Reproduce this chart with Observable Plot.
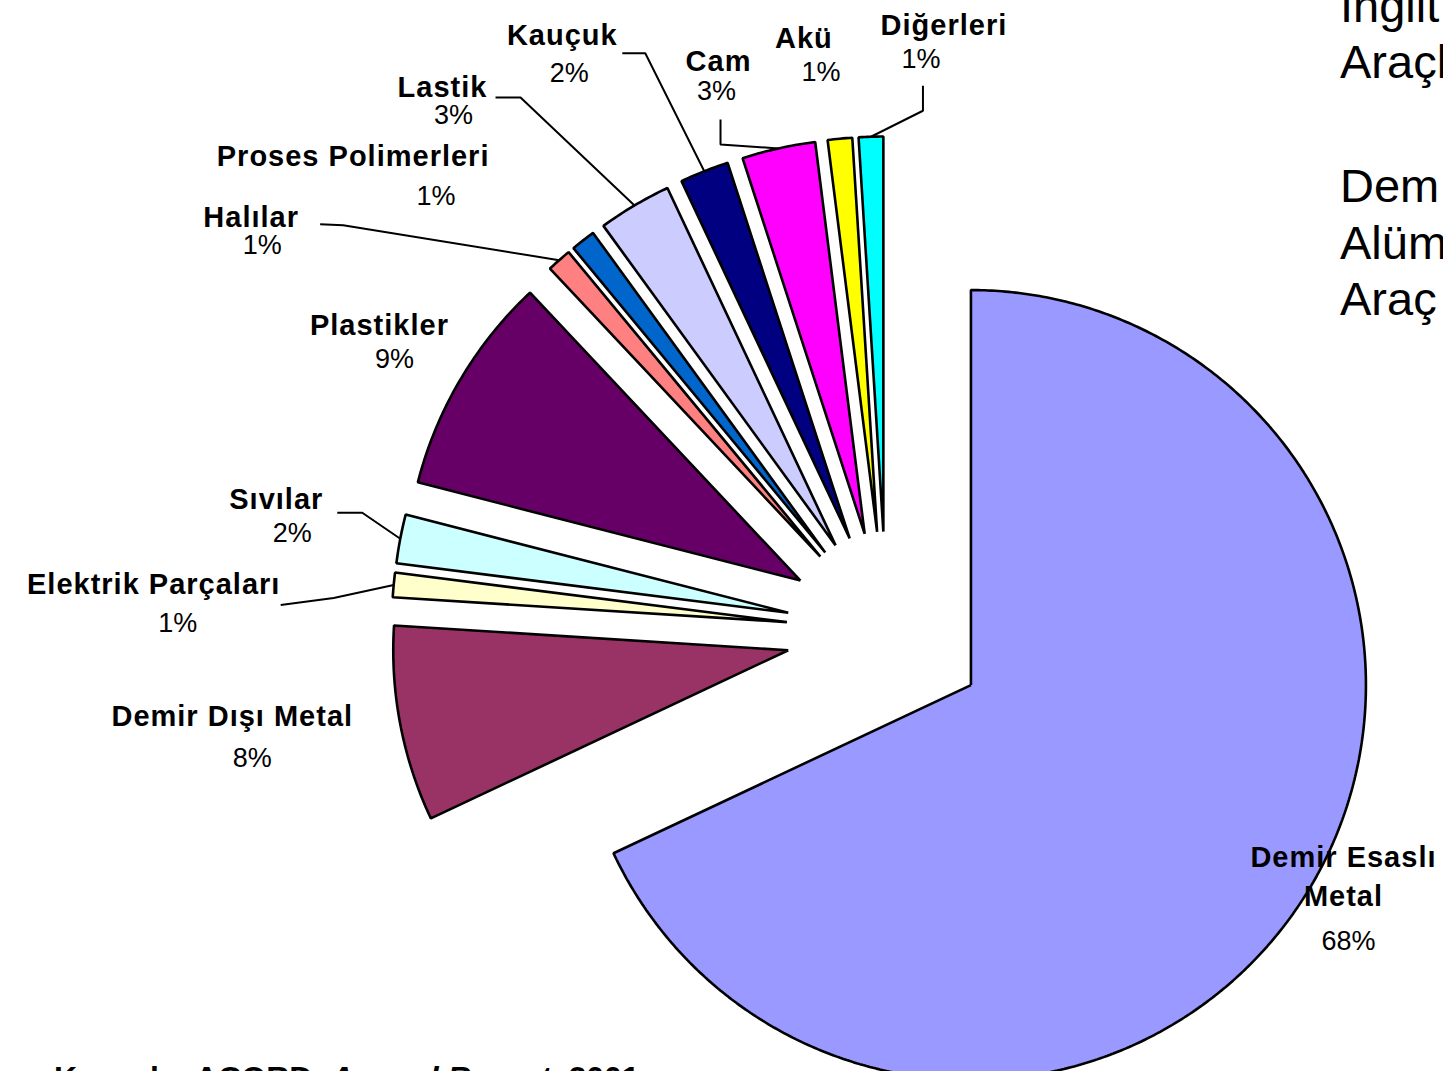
<!DOCTYPE html>
<html>
<head>
<meta charset="utf-8">
<script src="https://cdn.jsdelivr.net/npm/d3@7"></script>
<script src="https://cdn.jsdelivr.net/npm/@observablehq/plot@0.6"></script>
<style>
html, body { margin: 0; padding: 0; background: #fff; overflow: hidden; }
#wrap { position: relative; width: 1443px; height: 1071px; overflow: hidden; font-family: "Liberation Sans", Arial, sans-serif; color: #000; }
#chart { position: absolute; left: 0; top: 0; }
.side { position: absolute; left: 1340px; font-size: 47px; line-height: 1; white-space: nowrap; }
.caption { position: absolute; left: 54px; top: 1062px; font-size: 32px; line-height: 1; font-weight: bold; white-space: nowrap; }
#chart g[font-weight="bold"] text { letter-spacing: 1px; }
</style>
</head>
<body>
<div id="wrap">
  <div id="chart"></div>
  <div id="side"></div>
  <div class="caption">Kaynak : ACORD, <i>Annual Report</i>, 2001</div>
</div>
<script>
// ---- data ----
const categories = ["Demir Esaslı Metal", "Demir Dışı Metal", "Elektrik Parçaları", "Sıvılar", "Plastikler",
  "Halılar", "Proses Polimerleri", "Lastik", "Kauçuk", "Cam", "Akü", "Diğerleri"];
const shares = [68, 8, 1, 2, 9, 1, 1, 3, 2, 3, 1, 1];
const nameLabels = ["Demir Esaslı\nMetal", "Demir Dışı Metal", "Elektrik Parçaları", "Sıvılar", "Plastikler",
  "Halılar", "Proses Polimerleri", "Lastik", "Kauçuk", "Cam", "Akü", "Diğerleri"];
const sideLines = ["İngilt", "Araçl", "Dem", "Alüm", "Araç"];

// ---- styles ----
const palette = ["#9999FF", "#993366", "#FFFFCC", "#CCFFFF", "#660066", "#FF8080",
  "#0066CC", "#CCCCFF", "#000080", "#FF00FF", "#FFFF00", "#00FFFF"];

// ---- layout ----
const W = 1443, H = 1071;
const CX = 886, CY = 631, R = 395, EXPLODE = 100;
// label offsets from the slice's outer mid-point [nameDx, nameDy, pctDx, pctDy]
const labelOffsets = [
  [39, -23, 44, 45], [-168, -11, -148, 34], [-240, -4, -216, 38], [-124, -42, -108, -5],
  [-81, -57, -66, -20], [-308, -46, -297, -15], [-230, -87, -147, -44], [-192, -121, -181, -90],
  [-142, -139, -135, -98], [-60, -90, -62, -57], [-36, -103, -19, -66], [73, -114, 50, -77]
];
// leader line: start and elbow offsets from the slice's outer mid-point
const leaderOffsets = {
  2: [[-113, 20], [-60, 13]],
  3: [[-63, -26], [-38, -26]],
  5: [[-239, -36], [-216, -35]],
  7: [[-139, -108], [-114, -108]],
  8: [[-82, -118], [-59, -118]],
  9: [[-58, -29], [-58, -4]],
  11: [[52, -51], [52, -26]]
};
const baselines = [22, 78, 202, 259, 315];

const side = document.getElementById("side");
sideLines.forEach((t, i) => {
  const d = document.createElement("div");
  d.className = "side";
  d.textContent = t;
  d.style.top = (baselines[i] - 0.8465 * 47) + "px";
  side.appendChild(d);
});

const rad = a => a * Math.PI / 180;
const total = d3.sum(shares);
let acc = 0;
const slices = categories.map((name, i) => {
  const a0 = acc / total * 360; acc += shares[i]; const a1 = acc / total * 360;
  const mid = (a0 + a1) / 2;
  const vx = CX + EXPLODE * Math.sin(rad(mid)), vy = CY - EXPLODE * Math.cos(rad(mid));
  const ox = CX + (R + EXPLODE) * Math.sin(rad(mid)), oy = CY - (R + EXPLODE) * Math.cos(rad(mid));
  return {name, i, a0, a1, mid, vx, vy, ox, oy, share: shares[i]};
});

const polyPts = slices.flatMap(s => {
  const pts = [{name: s.name, x: s.vx, y: s.vy}];
  const n = Math.max(2, Math.ceil((s.a1 - s.a0) / 0.5));
  for (let k = 0; k <= n; k++) {
    const a = s.a0 + (s.a1 - s.a0) * k / n;
    pts.push({name: s.name, x: s.vx + R * Math.sin(rad(a)), y: s.vy - R * Math.cos(rad(a))});
  }
  pts.push({name: s.name, x: s.vx, y: s.vy});
  return pts;
});

const leaderPts = slices.flatMap(s => {
  const l = leaderOffsets[s.i];
  if (!l) return [];
  return [
    {name: s.name, x: s.ox + l[0][0], y: s.oy + l[0][1]},
    {name: s.name, x: s.ox + l[1][0], y: s.oy + l[1][1]},
    {name: s.name, x: s.ox, y: s.oy}
  ];
});

const chart = Plot.plot({
  width: W, height: H, margin: 0,
  style: {background: "transparent", overflow: "visible"},
  x: {domain: [0, W], range: [0, W], axis: null},
  y: {domain: [0, H], range: [0, H], axis: null},
  color: {type: "ordinal", domain: categories, range: palette},
  marks: [
    Plot.line(polyPts, {x: "x", y: "y", z: "name", fill: "name", stroke: "#000", strokeWidth: 2.6,
      strokeLinejoin: "miter", strokeLinecap: "butt", curve: "linear"}),
    Plot.line(leaderPts, {x: "x", y: "y", z: "name", stroke: "#000", strokeWidth: 2,
      strokeLinejoin: "miter", strokeLinecap: "butt"}),
    Plot.text(slices, {x: s => s.ox + labelOffsets[s.i][0], y: s => s.oy + labelOffsets[s.i][1],
      text: s => nameLabels[s.i], fontFamily: "Liberation Sans", fontWeight: "bold", fontSize: 29,
      lineHeight: 1.37, fill: "#000"}),
    Plot.text(slices, {x: s => s.ox + labelOffsets[s.i][2], y: s => s.oy + labelOffsets[s.i][3],
      text: s => s.share + "%", fontFamily: "Liberation Sans", fontSize: 27, fill: "#000"})
  ]
});
document.getElementById("chart").appendChild(chart);
</script>
</body>
</html>
